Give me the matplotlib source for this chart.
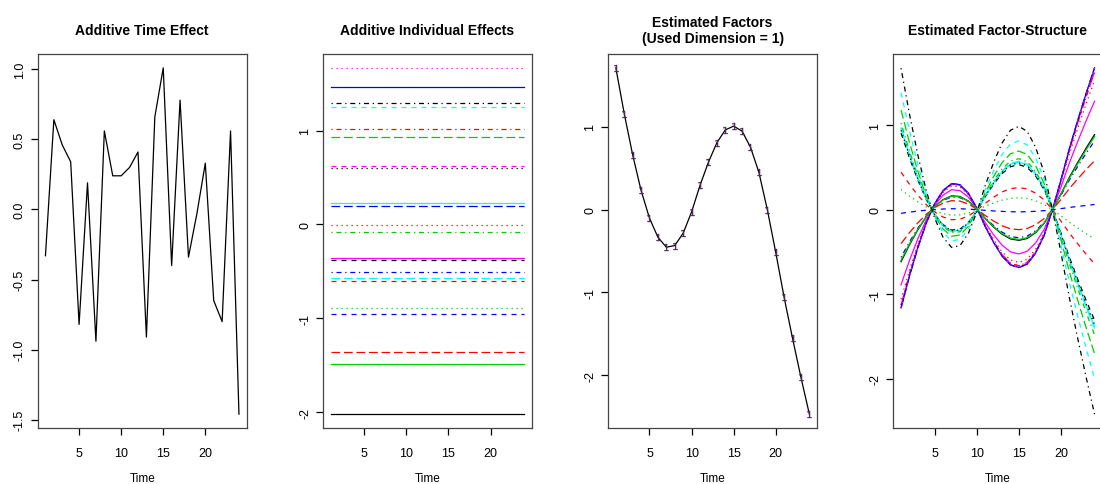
import matplotlib
matplotlib.use("Agg")
import matplotlib.pyplot as plt
import numpy as np

plt.rcParams['font.family'] = ['Liberation Sans', 'DejaVu Sans']

time = np.arange(1, 25)

# additive time effect
time_effect = [-0.33, 0.64, 0.46, 0.34, -0.82, 0.19, -0.94, 0.56, 0.24, 0.24, 0.30, 0.41,
               -0.91, 0.66, 1.01, -0.40, 0.78, -0.34, -0.03, 0.33, -0.65, -0.80, 0.56, -1.46]

# additive individual effects (22 individuals, R matplot order)
indiv_effects = [-2.02, -0.60, -0.887, -0.508, -0.575, -0.359, -0.38, -0.007, -0.078, 0.195, 0.231,
                 0.625, 0.60, 1.019, 0.934, 1.466, 1.25, 1.668, 1.296, -1.36, -1.487, -0.958]

# estimated common factor
factor = [1.71, 1.156, 0.66, 0.23, -0.105, -0.334, -0.455, -0.435, -0.286, -0.03, 0.29, 0.57,
          0.805, 0.96, 1.007, 0.946, 0.753, 0.45, 0.0, -0.515, -1.06, -1.555, -2.026, -2.47]

# factor loadings per individual (factor-structure = loading * factor)
loadings = [-0.36, 0.26, 0.14, -0.33, 0.57, -0.52, 0.53, -0.62, 0.60, -0.68, 0.56,
            -0.66, 0.55, -0.66, 0.69, -0.68, 0.81, -0.68, 0.98, -0.235, -0.35, -0.025]

titles = ["Additive Time Effect", "Additive Individual Effects",
          "Estimated Factors\n(Used Dimension = 1)", "Estimated Factor-Structure"]

# R default palette and line types
r_cols = ['black', '#FF0000', '#00CD00', '#0000FF', '#00FFFF', '#FF00FF']
r_ltys = ['-', (0, (4, 4)), (0, (1, 3)), (0, (1, 3, 4, 3)), (0, (7, 3))]

W, H = 1100, 485
fig = plt.figure(figsize=(W / 100, H / 100), dpi=100)

axes = []
for k in range(4):
    left = 37.7 + 285.2 * k
    ax = fig.add_axes([left / W, 56 / H, 209 / W, 374 / H])
    axes.append(ax)


def r_lim(vals):
    lo, hi = np.min(vals), np.max(vals)
    r = hi - lo
    return lo - 0.04 * r, hi + 0.04 * r


def style(ax, yticks, ylabels):
    ax.set_xlim(r_lim(time))
    ax.set_xticks([5, 10, 15, 20])
    ax.set_xticklabels(['5', '10', '15', '20'])
    ax.set_yticks(yticks)
    ax.set_yticklabels(ylabels, rotation=90, va='center')
    ax.tick_params(axis='x', length=5, width=0.9, pad=8.5, labelsize=9)
    ax.tick_params(axis='y', length=5, width=0.9, pad=3.5, labelsize=9)
    for s in ax.spines.values():
        s.set_linewidth(0.9)
        s.set_color('#444444')


# panel 1
ax = axes[0]
ax.plot(time, time_effect, color='black', lw=0.9)
ax.set_ylim(r_lim(time_effect))
style(ax, [-1.5, -1.0, -0.5, 0.0, 0.5, 1.0], ['-1.5', '-1.0', '-0.5', '0.0', '0.5', '1.0'])

# panel 2
ax = axes[1]
for j, v in enumerate(indiv_effects):
    ax.plot(time, [v] * len(time), color=r_cols[j % 6], ls=r_ltys[j % 5], lw=0.9)
ax.set_ylim(r_lim(indiv_effects))
style(ax, [-2, -1, 0, 1], ['-2', '-1', '0', '1'])

# panel 3
ax = axes[2]
ax.plot(time, factor, color='black', lw=0.9)
ax.plot(time, factor, ls='none', marker='$1$', ms=5, mew=0.3, color='#4a2a55')
ax.set_ylim(r_lim(factor))
style(ax, [-2, -1, 0, 1], ['-2', '-1', '0', '1'])

# panel 4
ax = axes[3]
structure = np.outer(factor, loadings)
for j in range(len(loadings)):
    ax.plot(time, structure[:, j], color=r_cols[j % 6], ls=r_ltys[j % 5], lw=0.9)
ax.set_ylim(r_lim(structure))
style(ax, [-2, -1, 0, 1], ['-2', '-1', '0', '1'])

for k, ax in enumerate(axes):
    cx = (37.7 + 285.2 * k + 104.5) / W
    fig.text(cx, 1 - 31 / H, titles[k], ha='center', va='center', fontsize=10,
             fontweight='bold', linespacing=1.2)
    fig.text(cx, 1 - 479 / H, "Time", ha='center', va='center', fontsize=8.5)

fig.savefig("out.png", dpi=100)
